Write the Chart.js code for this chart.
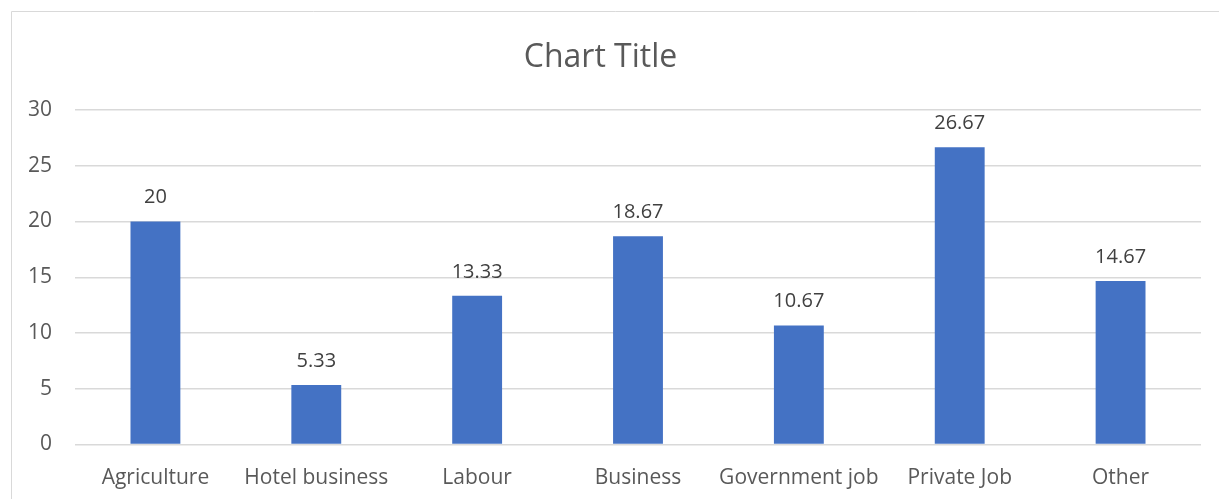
<!DOCTYPE html>
<html>
<head>
<meta charset="utf-8">
<script src="https://cdn.jsdelivr.net/npm/chart.js@4/dist/chart.umd.min.js"></script>
<style>
  html, body { margin: 0; padding: 0; background: #fff; }
  #wrap { width: 1219px; height: 499px; position: relative; }
</style>
</head>
<body>
<div id="wrap"><canvas id="jobChart" width="1219" height="499"></canvas></div>
<script>
const categories = ['Agriculture', 'Hotel business', 'Labour', 'Business', 'Government job', 'Private Job', 'Other'];
const shares = [20, 5.33, 13.33, 18.67, 10.67, 26.67, 14.67];
const yTicks = [0, 5, 10, 15, 20, 25, 30];

const textColor = '#595959';
const gridColor = '#D9D9D9';
const fontFamily = '"Open Sans", "Liberation Sans", sans-serif';

// light frame along the top and left edge of the chart box
const frame = {
    id: 'frame',
    beforeDraw(chart) {
        const ctx = chart.ctx;
        ctx.save();
        ctx.strokeStyle = gridColor;
        ctx.lineWidth = 1;
        ctx.beginPath();
        ctx.moveTo(11.5, chart.height);
        ctx.lineTo(11.5, 11.5);
        ctx.lineTo(chart.width, 11.5);
        ctx.stroke();
        ctx.restore();
    }
};

// value printed above every bar
const barValues = {
    id: 'barValues',
    afterDatasetsDraw(chart) {
        const ctx = chart.ctx;
        const meta = chart.getDatasetMeta(0);
        ctx.save();
        ctx.fillStyle = '#404040';
        ctx.font = '20px ' + fontFamily;
        ctx.textAlign = 'center';
        ctx.textBaseline = 'middle';
        meta.data.forEach((bar, i) => {
            ctx.fillText(String(shares[i]), bar.x, bar.y - 24);
        });
        ctx.restore();
    }
};

new Chart(document.getElementById('jobChart').getContext('2d'), {
    type: 'bar',
    data: {
        labels: categories,
        datasets: [{
            data: shares,
            backgroundColor: '#4472C4',
            borderWidth: 0,
            barPercentage: 1,
            categoryPercentage: 0.31
        }]
    },
    options: {
        responsive: false,
        animation: false,
        layout: { padding: { left: 0, right: 18, top: 0, bottom: 0 } },
        plugins: {
            legend: { display: false },
            tooltip: { enabled: false },
            title: {
                display: true,
                text: 'Chart Title',
                color: textColor,
                font: { family: fontFamily, size: 32, weight: 'normal', lineHeight: 1.2 },
                padding: { top: 39, bottom: 32.6 }
            }
        },
        scales: {
            x: {
                grid: { display: false, drawTicks: false },
                border: { display: false },
                ticks: {
                    color: textColor,
                    padding: 21,
                    maxRotation: 0,
                    autoSkip: false,
                    font: { family: fontFamily, size: 21 }
                },
                afterFit(scale) { scale.height = 54.5; }
            },
            y: {
                min: 0,
                max: 30,
                afterBuildTicks(scale) { scale.ticks = yTicks.map(v => ({ value: v })); },
                grid: { color: gridColor, lineWidth: 1.5, drawTicks: false },
                border: { display: false },
                ticks: {
                    color: textColor,
                    padding: 23,
                    font: { family: fontFamily, size: 21 }
                },
                afterFit(scale) { scale.width = 75; }
            }
        }
    },
    plugins: [frame, barValues]
});
</script>
</body>
</html>
